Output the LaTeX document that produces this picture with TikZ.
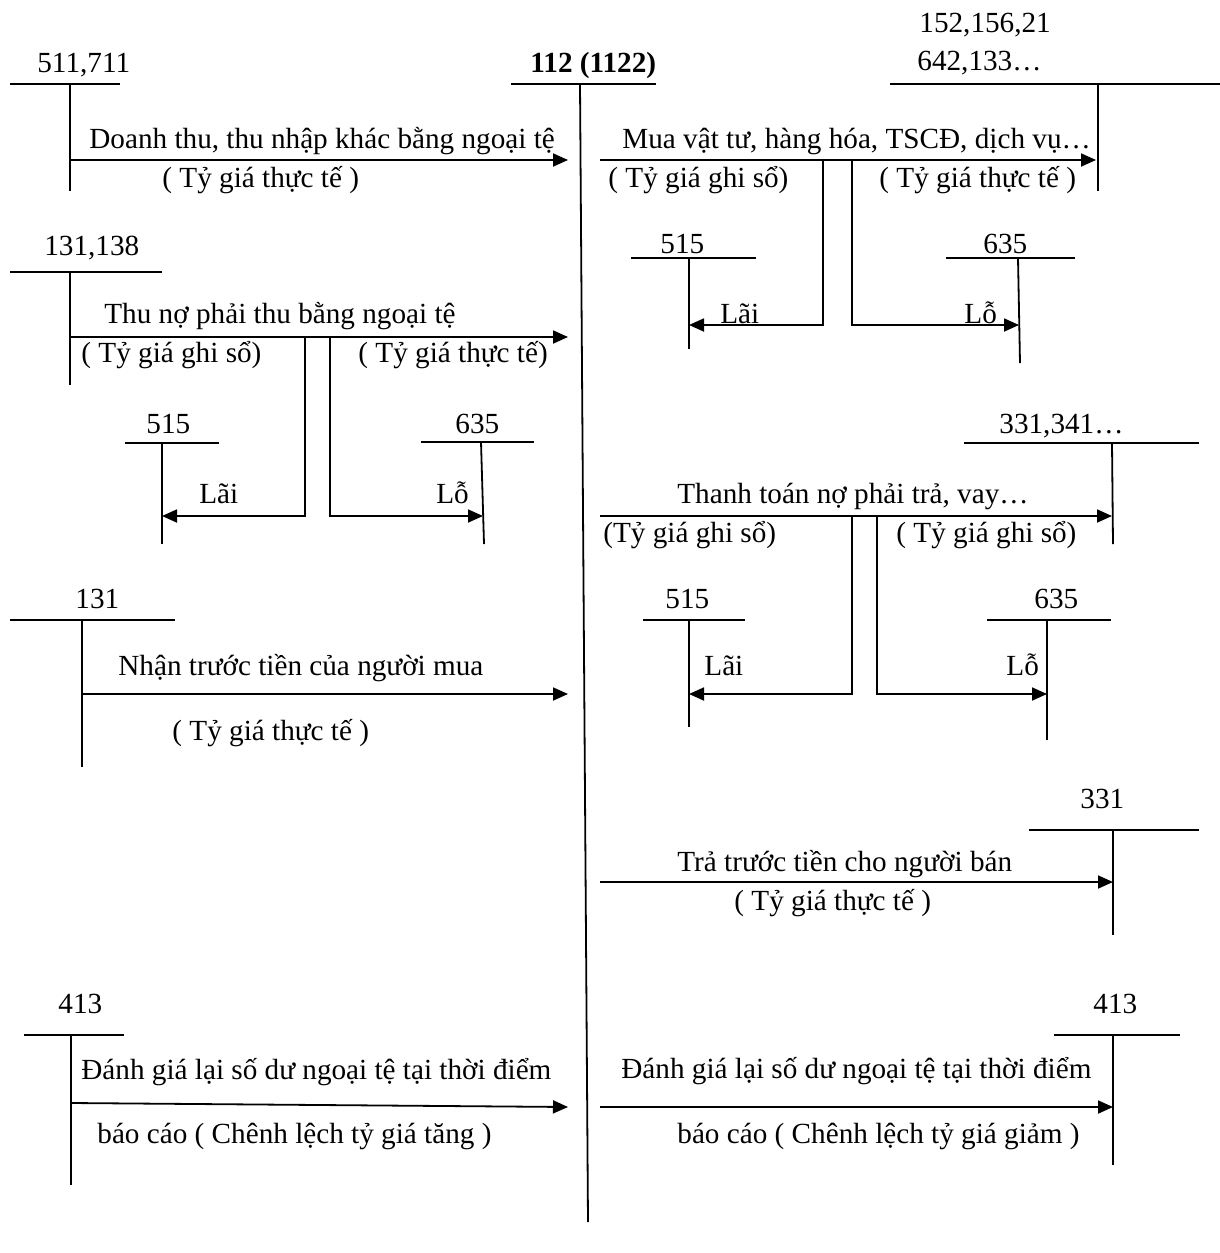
\documentclass[tikz,border=0pt]{standalone}
\usepackage{fontspec}
\setmainfont{Liberation Serif}
\usetikzlibrary{arrows.meta}

\tikzset{
    lbl/.style={anchor=base west, inner sep=0pt, font=\fontsize{14.6}{17}\selectfont},
    acct/.style={line width=0.9pt},
    post/.style={line width=0.9pt, -{Triangle[length=7.5pt,width=6.5pt]}}
}

\begin{document}
\begin{tikzpicture}[x=0.5pt, y=-0.5pt]
    \useasboundingbox (0,0) rectangle (1220,1253);

    % tai khoan 112 (1122)
    \node[lbl, font=\fontsize{14.6}{17}\selectfont\bfseries] (M) at (530,72) {112 (1122)};
    \coordinate (Mt) at (580,84);
    \coordinate (Mb) at (588,1222);
    \draw[acct] (511,84) -- (656,84);
    \draw[acct] (Mt) -- (Mb);

    % 511,711
    \node[lbl] (A) at (37,72) {511,711};
    \coordinate (At) at (70,84);
    \coordinate (A1) at (70,160);
    \coordinate (M1) at (568,160);
    \draw[acct] (10,84) -- (120,84);
    \draw[acct] (At) -- (70,191);
    \draw[post] (A1) -- (M1);
    \node[lbl] (A2) at (89,148) {Doanh thu, thu nhập khác bằng ngoại tệ};
    \node[lbl] (A3) at (162,187) {( Tỷ giá thực tế )};

    % 131,138
    \node[lbl] (B) at (44,255) {131,138};
    \coordinate (Bt) at (70,272);
    \coordinate (B1) at (70,337);
    \coordinate (M2) at (568,337);
    \draw[acct] (10,272) -- (162,272);
    \draw[acct] (Bt) -- (70,385);
    \draw[post] (B1) -- (M2);
    \node[lbl] (B2) at (104,323) {Thu nợ phải thu bằng ngoại tệ};
    \node[lbl] (B3) at (81,362) {( Tỷ giá ghi sổ)};
    \node[lbl] (B4) at (358,362) {( Tỷ giá thực tế)};

    \node[lbl] (C) at (146,433) {515};
    \coordinate (Ct) at (162,443);
    \coordinate (C1) at (162,516);
    \draw[acct] (125,443) -- (219,443);
    \draw[acct] (Ct) -- (162,544);
    \node[lbl] (D) at (455,433) {635};
    \coordinate (Dt) at (481,442);
    \coordinate (D1) at (483,516);
    \draw[acct] (421,442) -- (534,442);
    \draw[acct] (Dt) -- (484,544);
    \coordinate (B5) at (305,337);
    \coordinate (B6) at (330,337);
    \draw[post] (B5) -- (305,516) -- (C1);
    \draw[post] (B6) -- (330,516) -- (D1);
    \node[lbl] (C2) at (199,503) {Lãi};
    \node[lbl] (D2) at (436,503) {Lỗ};

    % 131
    \node[lbl] (E) at (75,608) {131};
    \coordinate (Et) at (82,620);
    \coordinate (E1) at (82,694);
    \coordinate (M3) at (568,694);
    \draw[acct] (10,620) -- (175,620);
    \draw[acct] (Et) -- (82,767);
    \draw[post] (E1) -- (M3);
    \node[lbl] (E2) at (118,675) {Nhận trước tiền của người mua};
    \node[lbl] (E3) at (172,740) {( Tỷ giá thực tế )};

    % 413 (tang)
    \node[lbl] (F) at (58,1013) {413};
    \coordinate (Ft) at (71,1035);
    \coordinate (F1) at (71,1103);
    \coordinate (M4) at (568,1107);
    \draw[acct] (24,1035) -- (124,1035);
    \draw[acct] (Ft) -- (71,1185);
    \draw[post] (F1) -- (M4);
    \node[lbl] (F2) at (81,1079) {Đánh giá lại số dư ngoại tệ tại thời điểm};
    \node[lbl] (F3) at (97,1143) {báo cáo ( Chênh lệch tỷ giá tăng )};

    % 152,156,21 642,133...
    \node[lbl] (G) at (919,32) {152,156,21};
    \node[lbl] (G0) at (917,70) {642,133…};
    \coordinate (Gt) at (1098,84);
    \coordinate (G1) at (1096,160);
    \coordinate (M5) at (600,160);
    \draw[acct] (890,84) -- (1220,84);
    \draw[acct] (Gt) -- (1098,191);
    \draw[post] (M5) -- (G1);
    \node[lbl] (G2) at (622,148) {Mua vật tư, hàng hóa, TSCĐ, dịch vụ…};
    \node[lbl] (G3) at (608,187) {( Tỷ giá ghi sổ)};
    \node[lbl] (G4) at (879,187) {( Tỷ giá thực tế )};

    \node[lbl] (H) at (660,253) {515};
    \coordinate (Ht) at (689,258);
    \coordinate (H1) at (689,325);
    \draw[acct] (631,258) -- (756,258);
    \draw[acct] (Ht) -- (689,349);
    \node[lbl] (K) at (983,253) {635};
    \coordinate (Kt) at (1018,258);
    \coordinate (K1) at (1019,325);
    \draw[acct] (946,258) -- (1075,258);
    \draw[acct] (Kt) -- (1020,363);
    \coordinate (G5) at (823,160);
    \coordinate (G6) at (852,160);
    \draw[post] (G5) -- (823,325) -- (H1);
    \draw[post] (G6) -- (852,325) -- (K1);
    \node[lbl] (H2) at (720,323) {Lãi};
    \node[lbl] (K2) at (964,323) {Lỗ};

    % 331,341...
    \node[lbl] (P) at (999,433) {331,341…};
    \coordinate (Pt) at (1112,443);
    \coordinate (P1) at (1112,516);
    \coordinate (M6) at (600,516);
    \draw[acct] (964,443) -- (1199,443);
    \draw[acct] (Pt) -- (1113,544);
    \draw[post] (M6) -- (P1);
    \node[lbl] (P2) at (677,503) {Thanh toán nợ phải trả, vay…};
    \node[lbl] (P3) at (603,542) {(Tỷ giá ghi sổ)};
    \node[lbl] (P4) at (896,542) {( Tỷ giá ghi sổ)};

    \node[lbl] (Q) at (665,608) {515};
    \coordinate (Qt) at (689,620);
    \coordinate (Q1) at (689,694);
    \draw[acct] (643,620) -- (745,620);
    \draw[acct] (Qt) -- (689,727);
    \node[lbl] (R) at (1034,608) {635};
    \coordinate (Rt) at (1047,620);
    \coordinate (R1) at (1047,694);
    \draw[acct] (987,620) -- (1111,620);
    \draw[acct] (Rt) -- (1047,740);
    \coordinate (P5) at (852,516);
    \coordinate (P6) at (877,516);
    \draw[post] (P5) -- (852,694) -- (Q1);
    \draw[post] (P6) -- (877,694) -- (R1);
    \node[lbl] (Q2) at (704,675) {Lãi};
    \node[lbl] (R2) at (1006,675) {Lỗ};

    % 331
    \node[lbl] (S) at (1080,808) {331};
    \coordinate (St) at (1113,830);
    \coordinate (S1) at (1113,882);
    \coordinate (M7) at (600,882);
    \draw[acct] (1029,830) -- (1199,830);
    \draw[acct] (St) -- (1113,935);
    \draw[post] (M7) -- (S1);
    \node[lbl] (S2) at (677,871) {Trả trước tiền cho người bán};
    \node[lbl] (S3) at (734,910) {( Tỷ giá thực tế )};

    % 413 (giam)
    \node[lbl] (T) at (1093,1013) {413};
    \coordinate (Tt) at (1113,1035);
    \coordinate (T1) at (1113,1107);
    \coordinate (M8) at (600,1107);
    \draw[acct] (1054,1035) -- (1180,1035);
    \draw[acct] (Tt) -- (1113,1165);
    \draw[post] (M8) -- (T1);
    \node[lbl] (T2) at (621,1078) {Đánh giá lại số dư ngoại tệ tại thời điểm};
    \node[lbl] (T3) at (677,1143) {báo cáo ( Chênh lệch tỷ giá giảm )};
\end{tikzpicture}
\end{document}
